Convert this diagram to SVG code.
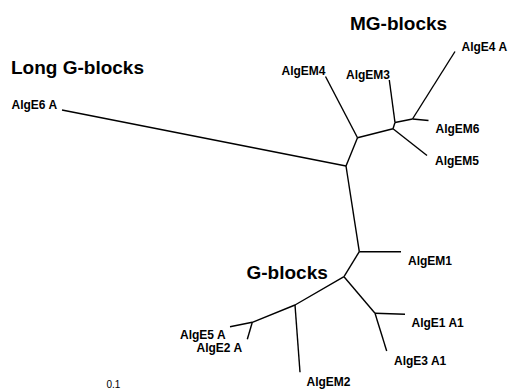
<svg xmlns="http://www.w3.org/2000/svg" width="509" height="390" viewBox="0 0 509 390">
  <style>
    .edge { fill: none; stroke: #000; stroke-width: 1.4; stroke-linejoin: round; stroke-linecap: butt; }
    .leaf { font-family: "Liberation Sans", Arial, sans-serif; font-weight: bold; font-size: 12px; fill: #000; }
    .group { font-family: "Liberation Sans", Arial, sans-serif; font-weight: bold; font-size: 19px; fill: #000; }
    .scale { font-family: "Liberation Sans", Arial, sans-serif; font-size: 10px; fill: #000; }
  </style>
  <rect width="509" height="390" fill="#fff"/>

  <!-- tree branches -->
  <g id="connectors">
    <!-- long G-block branch -->
    <path class="edge" d="M62,110 L346,166"/>
    <!-- MG-block clade -->
    <path class="edge" d="M346,166 L357.5,137.7"/>
    <path class="edge" d="M357.5,137.7 L325.5,76.5"/>
    <path class="edge" d="M357.5,137.7 L393,128.8"/>
    <path class="edge" d="M393,128.8 L427,155.5"/>
    <path class="edge" d="M393,128.8 L395,122.5"/>
    <path class="edge" d="M395,122.5 L389.3,80"/>
    <path class="edge" d="M395,122.5 L412.5,119"/>
    <path class="edge" d="M412.5,119 L455,51.5"/>
    <path class="edge" d="M412.5,119 L428.5,120.5"/>
    <!-- trunk down to G-block clade -->
    <path class="edge" d="M346,166 L359.3,251.7"/>
    <path class="edge" d="M359.3,251.7 L401,251.7"/>
    <path class="edge" d="M359.3,251.7 L344,276.7"/>
    <!-- AlgE1 / AlgE3 pair -->
    <path class="edge" d="M344,276.7 L375,313.3"/>
    <path class="edge" d="M375,313.3 L405,314.3"/>
    <path class="edge" d="M375,313.3 L386.7,351"/>
    <!-- AlgEM2 / AlgE5 / AlgE2 -->
    <path class="edge" d="M344,276.7 L295,305 L252.3,322.3 L230,326.7"/>
    <path class="edge" d="M295,305 L300,372.3"/>
    <path class="edge" d="M252.3,322.3 L247.3,339.3"/>
  </g>

  <!-- group headings -->
  <g id="label-long-g-blocks"><text class="group" x="11" y="74">Long G-blocks</text></g>
  <g id="label-mg-blocks"><text class="group" x="350" y="29.5">MG-blocks</text></g>
  <g id="label-g-blocks"><text class="group" x="246.5" y="279">G-blocks</text></g>

  <!-- leaves -->
  <g id="AlgE6A"><text class="leaf" x="11.5" y="108.5">AlgE6 A</text></g>
  <g id="AlgEM4"><text class="leaf" x="281.5" y="74.5">AlgEM4</text></g>
  <g id="AlgEM3"><text class="leaf" x="346" y="79">AlgEM3</text></g>
  <g id="AlgE4A"><text class="leaf" x="461.5" y="50.5">AlgE4 A</text></g>
  <g id="AlgEM6"><text class="leaf" x="435.5" y="133">AlgEM6</text></g>
  <g id="AlgEM5"><text class="leaf" x="435" y="164.5">AlgEM5</text></g>
  <g id="AlgEM1"><text class="leaf" x="408" y="264.5">AlgEM1</text></g>
  <g id="AlgE1A1"><text class="leaf" x="411.5" y="327">AlgE1 A1</text></g>
  <g id="AlgE3A1"><text class="leaf" x="394" y="364.5">AlgE3 A1</text></g>
  <g id="AlgEM2"><text class="leaf" x="306.5" y="385.5">AlgEM2</text></g>
  <g id="AlgE5A"><text class="leaf" x="180" y="339">AlgE5 A</text></g>
  <g id="AlgE2A"><text class="leaf" x="196.5" y="352">AlgE2 A</text></g>

  <!-- scale -->
  <g id="scale"><text class="scale" x="106.5" y="388">0.1</text></g>
</svg>
